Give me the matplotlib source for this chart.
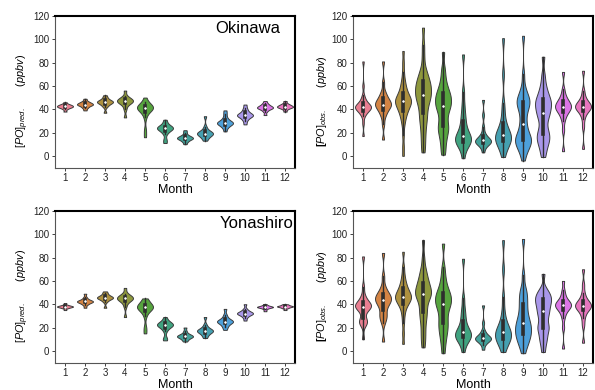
import matplotlib
matplotlib.use("Agg")
import matplotlib.pyplot as plt
import seaborn as sns
import pandas as pd

months = list(range(1, 13))

# ---- modelled (pred.) PO samples, Okinawa ----
pred_okinawa = [
    [38, 40, 41, 41.5, 42, 42, 42.5, 43, 43, 43.5, 44, 44.5, 46],
    [39, 41, 42, 43, 43.5, 44, 44, 44.5, 45, 45.5, 46, 47, 49],
    [37, 42, 43.5, 44.5, 45.5, 46, 46, 46.5, 47, 47.5, 48.5, 50, 52],
    [33, 40, 43.5, 45, 46, 46.5, 47, 47.5, 48, 48.5, 49.5, 51, 56],
    [16, 22, 33, 37, 39, 40, 40.5, 41, 41.5, 42, 42.5, 43, 44, 46, 50],
    [11, 14, 19, 21, 22.5, 23, 23.5, 24, 24.5, 25, 26, 28, 31],
    [10, 12, 13, 14, 14.5, 15, 15, 15.5, 16, 16.5, 17, 18, 20, 22],
    [13, 15, 16.5, 17.5, 18.5, 19, 19, 19.5, 20, 21, 22, 25, 34],
    [21, 24, 25.5, 26.5, 27.5, 28, 28, 28.5, 29, 30, 31, 33, 36, 39],
    [27, 30, 32, 33, 34, 34.5, 35, 35, 35.5, 36.5, 37.5, 39, 41, 44],
    [35, 38, 39.5, 40.5, 41, 41, 41.5, 42, 42.5, 43, 44, 45, 47],
    [38, 40, 41, 41.5, 42, 42, 42.5, 43, 43.5, 44, 45, 47],
]

# ---- observed PO samples, Okinawa ----
obs_okinawa = [
    [17, 28, 34, 36, 37.5, 38.5, 39, 40, 40.5, 41, 41.5, 42, 42, 42.5, 43, 43.5, 44, 45, 46, 47.5, 49, 52, 60, 81],
    [14, 27, 33, 36, 38, 39.5, 41, 42, 43, 44, 44, 45, 46, 47, 48, 49.5, 51, 53, 56, 63, 81],
    [0, 8, 18, 26, 30, 33, 35, 37, 38.5, 40, 41, 42, 43, 44, 45, 46, 46.5, 47, 47.5, 48, 49, 50, 51, 52, 53, 54.5, 56, 58, 60, 63, 66, 72, 80, 90],
    [3, 9, 15, 20, 25, 29, 32, 35, 38, 41, 44, 46, 48, 49.5, 51, 52.5, 54, 55.5, 57, 58.5, 60, 61.5, 63, 65, 67, 69, 72, 76, 85, 95, 110],
    [1, 6, 11, 15, 18, 21, 23, 25, 27, 30, 33, 36, 38.5, 40.5, 42, 43.5, 45, 46.5, 48, 49.5, 51, 52.5, 54, 56, 58.5, 61, 65, 70, 76, 89],
    [-2, 5, 8, 10, 11.5, 12.5, 13.5, 14.5, 15.5, 16.5, 18, 20, 22, 25, 29, 33, 38, 45, 55, 87],
    [3, 7, 9, 10, 11, 11.5, 12, 12.5, 13, 13.5, 14, 15, 16, 17.5, 20, 25, 35, 48],
    [-1, 5, 8, 10, 12, 13.5, 14.5, 15.5, 16.5, 17.5, 19, 21, 23, 26, 30, 37, 45, 70, 101],
    [-4, 2, 5, 7, 9, 10.5, 12, 13, 14, 15, 16.5, 18, 20, 23, 26, 29, 33, 37, 40, 42, 44, 45.5, 47, 48.5, 50, 52, 55, 60, 70, 103],
    [-1, 4, 8, 11, 13, 15, 17, 19, 21, 24, 28, 32, 34, 36, 38, 40, 42, 43.5, 45, 46.5, 48, 50, 52, 55, 58, 63, 70, 85],
    [4, 22, 30, 34, 36.5, 38, 39.5, 40.5, 41.5, 42, 43, 44, 45, 46, 47.5, 49.5, 52, 57, 72],
    [6, 25, 32, 36, 38, 39.5, 40.5, 41.5, 42, 42.5, 43, 44, 45, 46.5, 48, 51, 56, 73],
]

# ---- modelled (pred.) PO samples, Yonashiro ----
pred_yonashiro = [
    [35, 36.5, 37, 37.5, 37.5, 38, 38, 38, 38.5, 38.5, 39, 39.5, 41],
    [37, 39.5, 40.5, 41.5, 42, 42, 42.5, 42.5, 43, 43.5, 44.5, 46, 49],
    [37, 42, 43.5, 44.5, 45, 45.5, 45.5, 46, 46.5, 47, 48, 49.5, 51],
    [29, 38, 41.5, 43, 44, 44.5, 45, 45.5, 46, 46.5, 47.5, 49, 54],
    [15, 20, 30, 34, 35.5, 36.5, 37, 37.5, 38, 38.5, 39.5, 41, 43, 45],
    [9, 11, 17, 19.5, 21, 21.5, 22, 22.5, 23, 23.5, 24.5, 26, 29],
    [8, 9.5, 10.5, 11.5, 12, 12, 12.5, 13, 13.5, 14, 15, 17, 20],
    [11, 13, 14.5, 15.5, 16.5, 17, 17, 17.5, 18, 19, 20, 22.5, 29],
    [18, 20.5, 22, 23.5, 24.5, 25, 25, 25.5, 26, 27, 28.5, 31, 36],
    [26, 28.5, 30, 31, 31.5, 32, 32, 32.5, 33, 33.5, 34.5, 36, 40],
    [34, 35.5, 36.5, 37, 37.5, 37.5, 37.5, 38, 38, 38.5, 39, 40],
    [35, 36.5, 37, 37.5, 38, 38, 38, 38.5, 38.5, 39, 39.5, 40],
]

# ---- observed PO samples, Yonashiro ----
obs_yonashiro = [
    [10, 22, 24, 25, 26, 28, 33, 35, 36.5, 37.5, 38, 38.5, 39, 39.5, 40.5, 41.5, 43, 45, 48, 55, 81],
    [8, 24, 28, 30, 32, 36, 38.5, 40.5, 42, 43, 44, 45, 46, 47, 48.5, 50, 52, 56, 64, 84],
    [6, 15, 24, 30, 34, 37, 39, 40.5, 41.5, 42.5, 43.5, 44.5, 45.5, 46, 46.5, 47, 48, 49, 50, 51, 52, 53.5, 55, 57, 59, 62, 66, 72, 85],
    [3, 9, 14, 19, 24, 28, 31, 34, 37, 40, 43, 45, 47, 48, 49, 50, 51.5, 53, 54.5, 56, 58, 60, 62, 65, 68, 72, 80, 95],
    [-2, 5, 10, 14, 17, 20, 22.5, 25, 28, 31, 34, 36.5, 38.5, 40, 41.5, 43, 44.5, 46, 47.5, 49, 51, 53, 56, 60, 65, 72, 92],
    [-1, 5, 8, 9.5, 11, 12, 13, 14, 15, 16, 17, 19, 21, 24, 28, 32, 37, 45, 79],
    [1, 5, 7, 8, 9, 9.5, 10, 10.5, 11, 11.5, 12, 13, 14, 15.5, 18, 24, 39],
    [-1, 4, 7, 8.5, 10, 11, 12.5, 14, 15, 16, 17.5, 19, 21, 24, 28, 35, 46, 70, 95],
    [-2, 3, 6, 8, 10, 12, 13.5, 15, 16.5, 18, 19.5, 21, 22.5, 24, 26, 28, 30, 33, 36, 39, 42, 45, 48, 51, 55, 65, 96],
    [-1, 5, 9, 12, 15, 18, 20, 21, 24, 27, 30, 32, 34, 36, 38, 40, 41.5, 43, 44.5, 46, 47.5, 49, 51, 54, 66],
    [2, 20, 28, 32, 34.5, 36, 37, 38, 39, 39.5, 40, 41, 42, 43, 45, 48, 52, 60],
    [7, 22, 28, 32, 34.5, 36, 37, 38, 38.5, 39, 40, 41, 42, 43.5, 46, 50, 57, 70],
]

sites = ["Okinawa", "Yonashiro"]
yticks = [0, 20, 40, 60, 80, 100, 120]

plt.rcParams["font.family"] = ["Liberation Sans", "DejaVu Sans"]
plt.rcParams["mathtext.fontset"] = "custom"
plt.rcParams["mathtext.rm"] = "Liberation Sans"
plt.rcParams["mathtext.it"] = "Liberation Sans:italic"
plt.rcParams["mathtext.bf"] = "Liberation Sans:bold"

palette = sns.husl_palette(12)

fig = plt.figure(figsize=(5.95, 3.9), dpi=100)
boxes = {
    (0, 0): [0.0924, 0.5705, 0.4034, 0.3885],
    (0, 1): [0.5933, 0.5705, 0.4034, 0.3885],
    (1, 0): [0.0924, 0.0705, 0.4034, 0.3885],
    (1, 1): [0.5933, 0.0705, 0.4034, 0.3885],
}
panels = {
    (0, 0): pred_okinawa, (0, 1): obs_okinawa,
    (1, 0): pred_yonashiro, (1, 1): obs_yonashiro,
}


def to_frame(samples):
    rows = []
    for m, vals in zip(months, samples):
        for v in vals:
            rows.append((m, v))
    return pd.DataFrame(rows, columns=["Month", "PO"])


for (r, c), samples in panels.items():
    ax = fig.add_axes(boxes[(r, c)])
    df = to_frame(samples)
    sns.violinplot(data=df, x="Month", y="PO", hue="Month", order=months,
                   hue_order=months, palette=palette, legend=False,
                   density_norm="width", cut=0,
                   bw_adjust=0.6 if c == 0 else 0.42,
                   inner="box", linewidth=0.7, linecolor="#3c3c3c",
                   width=0.8, saturation=0.8,
                   inner_kws=dict(box_width=2.6, whis_width=1.0,
                                  marker="o", markersize=1.2,
                                  color="#2e2e2e"),
                   ax=ax)
    ax.set_ylim(-10, 120)
    ax.set_xlim(-0.5, 11.5)
    ax.set_yticks(yticks)
    ax.set_xticks(range(12))
    ax.set_xticklabels([str(m) for m in months])
    ax.tick_params(labelsize=7, length=2.5, width=0.6, pad=1.5, colors="#222222")
    ax.set_xlabel("Month", fontsize=9, labelpad=0.5)
    if c == 0:
        ax.set_ylabel(r"$[PO]_{pred.}$       $(ppbv)$", fontsize=7.8)
        ax.text(0.94 if r == 0 else 0.995, 0.915, sites[r], transform=ax.transAxes,
                ha="right", va="center", fontsize=12)
    else:
        ax.set_ylabel(r"$\mathbf{[}PO]_{obs.}$       $(ppbv)$", fontsize=7.8)
    ax.yaxis.set_label_coords(-0.10, 0.44)
    for s in ["left", "bottom"]:
        ax.spines[s].set_color("#555555")
        ax.spines[s].set_linewidth(0.8)
    for s in ["top", "right"]:
        ax.spines[s].set_color("black")
        ax.spines[s].set_linewidth(1.5)

fig.savefig("out.png", dpi=100)
